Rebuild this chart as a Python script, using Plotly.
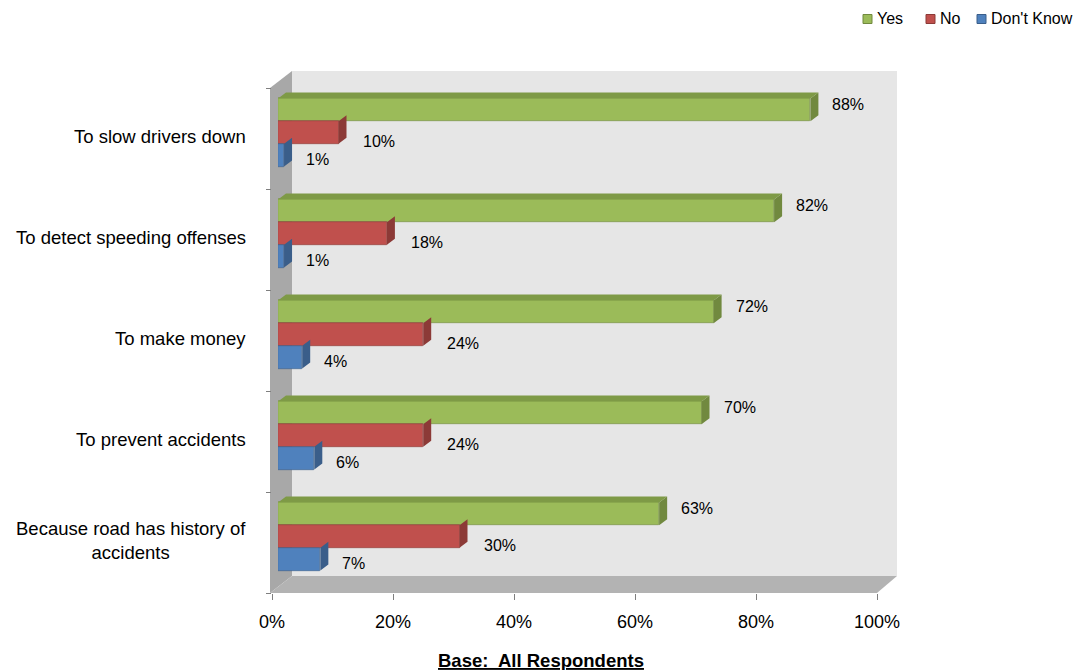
import plotly.graph_objects as go

# ---- data -------------------------------------------------------------
categories = [
    "To slow drivers down",
    "To detect speeding offenses",
    "To make money",
    "To prevent accidents",
    "Because road has history of<br>accidents",
]
series_names = ["Yes", "No", "Don't Know"]
yes = [88, 82, 72, 70, 63]
no = [10, 18, 24, 24, 30]
dont_know = [1, 1, 4, 6, 7]
x_tick_values = [0, 20, 40, 60, 80, 100]
x_tick_labels = ["0%", "20%", "40%", "60%", "80%", "100%"]
footer = "Base:\u00a0 All Respondents"

series_values = [yes, no, dont_know]

# ---- styling ----------------------------------------------------------
FONT = "Arial, Liberation Sans, sans-serif"
front_colors = ["#9BBB59", "#C0504D", "#4F81BD"]
side_colors = ["#71893F", "#8C3A37", "#3A5E8A"]
top_colors = ["#7E9A46", "#A34441", "#436E9F"]

W, H = 1081, 670
ML, MR, MT, MB = 262, 170, 60, 70
PW, PH = W - ML - MR, H - MT - MB


def fx(px):
    return (px - ML) / PW


def fy(py):
    return (H - MB - py) / PH


# front plane of the 3-D box (pixels)
FX0, FX1, FY0, FY1 = 272, 877, 88, 593
# depth of the box walls and offset of the bar plane
DX, DY = 20, -17
SX, SY = 6, -6
# bar depth in pixels
BDX, BDY = 8, -6

n = len(categories)
band_px = (FY1 - FY0) / n
bar_w = 0.225
offsets = [-bar_w, 0.0, bar_w]
ddx = BDX * 100 / (FX1 - FX0)
ddy = BDY / band_px

fig = go.Figure()

# side and top faces of the bars (drawn first so the fronts sit on top)
for k, vals in enumerate(series_values):
    sx, sy = [], []
    tx, ty = [], []
    for i, v in enumerate(vals):
        yc = i + offsets[k]
        y0, y1 = yc - bar_w / 2, yc + bar_w / 2
        sx += [v, v + ddx, v + ddx, v, v, None]
        sy += [y0, y0 + ddy, y1 + ddy, y1, y0, None]
        if k == 0:
            tx += [0, ddx, v + ddx, v, 0, None]
            ty += [y0, y0 + ddy, y0 + ddy, y0, y0, None]
    fig.add_trace(go.Scatter(
        x=sx, y=sy, fill="toself", mode="lines", line=dict(width=0),
        fillcolor=side_colors[k], showlegend=False, hoverinfo="skip",
        xaxis="x2", yaxis="y2"))
    if tx:
        fig.add_trace(go.Scatter(
            x=tx, y=ty, fill="toself", mode="lines", line=dict(width=0),
            fillcolor=top_colors[k], showlegend=False, hoverinfo="skip",
            xaxis="x2", yaxis="y2"))

# front faces of the bars
for k, vals in enumerate(series_values):
    fig.add_trace(go.Bar(
        x=vals, y=[i + offsets[k] for i in range(n)], width=bar_w,
        orientation="h", name=series_names[k], showlegend=False,
        marker=dict(color=front_colors[k], line=dict(color=side_colors[k], width=0.6)),
        xaxis="x2", yaxis="y2"))

# value labels
label_shift = [(20, 5), (22, -9), (20, -4)]
for k, vals in enumerate(series_values):
    for i, v in enumerate(vals):
        fig.add_annotation(
            x=v, y=i + offsets[k], xref="x2", yref="y2",
            text=f"{v}%", showarrow=False, xanchor="left", yanchor="middle",
            xshift=label_shift[k][0], yshift=label_shift[k][1],
            font=dict(family=FONT, size=16, color="#000000"))

# category labels
for i, c in enumerate(categories):
    fig.add_annotation(
        x=fx(FX0 - 24), y=i, xref="paper", yref="y",
        text=c, showarrow=False, xanchor="right", yanchor="middle",
        align="center", yshift=2,
        font=dict(family=FONT, size=18.5, color="#000000"))

# 3-D box: back wall, left wall, floor


def path(points):
    return "M " + " L ".join(f"{fx(a):.5f},{fy(b):.5f}" for a, b in points) + " Z"


back = [(FX0 + DX, FY0 + DY), (FX1 + DX, FY0 + DY), (FX1 + DX, FY1 + DY), (FX0 + DX, FY1 + DY)]
left = [(FX0 - 2, FY0), (FX0 + DX, FY0 + DY), (FX0 + DX, FY1 + DY), (FX0 - 2, FY1)]
floor = [(FX0 - 2, FY1), (FX0 + DX, FY1 + DY), (FX1 + DX, FY1 + DY), (FX1, FY1)]
fig.add_shape(type="path", path=path(back), xref="paper", yref="paper",
              fillcolor="#E6E6E6", line=dict(width=0), layer="below")
fig.add_shape(type="path", path=path(left), xref="paper", yref="paper",
              fillcolor="#A8A8A8", line=dict(width=0), layer="below")
fig.add_shape(type="path", path=path(floor), xref="paper", yref="paper",
              fillcolor="#B3B3B3", line=dict(width=0), layer="below")

# legend: small swatches with series names, top right
legend_swatch_x = [863, 926, 977]
LEG_Y, SW = 19, 9
for k, name in enumerate(series_names):
    x0 = legend_swatch_x[k]
    fig.add_shape(type="rect", xref="paper", yref="paper",
                  x0=fx(x0), x1=fx(x0 + SW), y0=fy(LEG_Y + SW / 2), y1=fy(LEG_Y - SW / 2),
                  fillcolor=front_colors[k], line=dict(color=side_colors[k], width=1))
    fig.add_annotation(
        x=fx(x0 + SW + 3), y=fy(LEG_Y), xref="paper", yref="paper",
        text=name, showarrow=False, xanchor="left", yanchor="middle",
        font=dict(family=FONT, size=16, color="#000000"))

# footer
fig.add_annotation(
    x=fx(541), y=fy(660), xref="paper", yref="paper",
    text=f"<b><u>{footer}</u></b>", showarrow=False,
    xanchor="center", yanchor="middle",
    font=dict(family=FONT, size=18.5, color="#000000"))

axis_common = dict(showgrid=False, zeroline=False, showline=False, fixedrange=True)

fig.update_layout(
    width=W, height=H,
    margin=dict(l=ML, r=MR, t=MT, b=MB, autoexpand=False),
    paper_bgcolor="#FFFFFF", plot_bgcolor="rgba(0,0,0,0)",
    barmode="overlay", bargap=0,
    font=dict(family=FONT, size=16, color="#000000"),
    xaxis=dict(
        domain=[fx(FX0), fx(FX1)], range=[0, 100],
        tickvals=x_tick_values, ticktext=x_tick_labels,
        ticks="outside", ticklen=6, tickcolor="#7F7F7F", tickwidth=1,
        tickfont=dict(family=FONT, size=18, color="#000000"),
        ticklabelstandoff=6, anchor="y", **axis_common),
    yaxis=dict(
        domain=[fy(FY1), fy(FY0)], range=[n - 0.5, -0.5],
        tickvals=[i - 0.5 for i in range(n + 1)],
        ticktext=[""] * (n + 1),
        ticks="outside", ticklen=5, tickcolor="#7F7F7F", tickwidth=1,
        anchor="x", **axis_common),
    xaxis2=dict(
        domain=[fx(FX0 + SX), fx(FX1 + SX)], range=[0, 100],
        showticklabels=False, anchor="y2", **axis_common),
    yaxis2=dict(
        domain=[fy(FY1 + SY), fy(FY0 + SY)], range=[n - 0.5, -0.5],
        showticklabels=False, anchor="x2", **axis_common),
    showlegend=False,
)

fig.write_html("out.html")
